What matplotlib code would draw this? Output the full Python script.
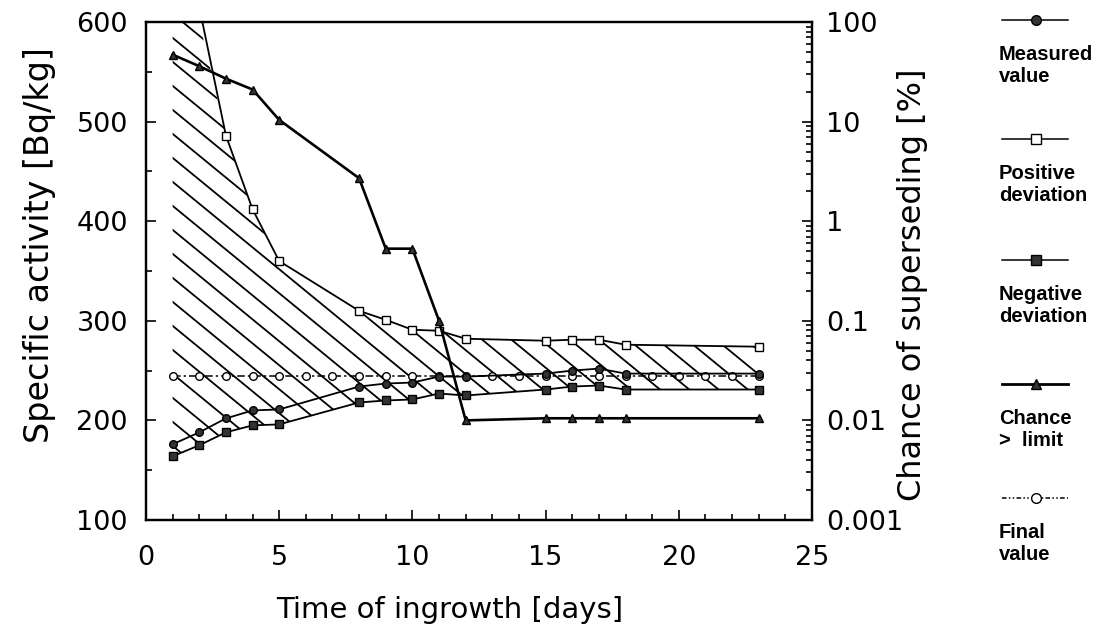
import numpy as np
import matplotlib
matplotlib.use("Agg")
import matplotlib.pyplot as plt
from matplotlib.lines import Line2D
from matplotlib.patches import PathPatch
from matplotlib.ticker import MultipleLocator, LogLocator, FixedLocator, FixedFormatter, NullFormatter

# data
days = [1, 2, 3, 4, 5, 8, 9, 10, 11, 12, 15, 16, 17, 18, 23]
measured = [176, 188, 202, 210, 211, 234, 237, 238, 244, 244, 247, 250, 252, 247, 247]
pos_dev = [750, 615, 486, 412, 360, 310, 301, 291, 290, 282, 280, 281, 281, 276, 274]
neg_dev = [164, 175, 188, 195, 196, 218, 220, 221, 227, 225, 231, 234, 235, 231, 231]
chance = [47, 36, 27, 21, 10.4, 2.7, 0.53, 0.53, 0.10, 0.010, 0.0105, 0.0105, 0.0105, 0.0105, 0.0105]
final_days = list(range(1, 24))
final_value = [245] * 23

left_ticks = [100, 200, 300, 400, 500, 600]
right_ticks = [0.001, 0.01, 0.1, 1, 10, 100]
right_labels = ["0.001", "0.01", "0.1", "1", "10", "100"]
x_ticks = [0, 5, 10, 15, 20, 25]

legend_items = [
    ("Measured\nvalue", dict(marker="o", mfc="#333333", mec="black", ms=7, lw=1.1, ls="-")),
    ("Positive\ndeviation", dict(marker="s", mfc="white", mec="black", ms=7, lw=1.1, ls="-")),
    ("Negative\ndeviation", dict(marker="s", mfc="#333333", mec="black", ms=7, lw=1.1, ls="-")),
    ("Chance\n>  limit", dict(marker="^", mfc="#333333", mec="black", ms=7, lw=2.0, ls="-")),
    ("Final\nvalue", dict(marker="o", mfc="white", mec="black", ms=7, lw=1.1, dashes=[3, 1.5, 1, 1.5, 1, 1.5])),
]

plt.rcParams["font.family"] = "DejaVu Sans"

fig = plt.figure(figsize=(11.01, 6.36), dpi=100)
ax = fig.add_axes([0.1326, 0.1824, 0.6049, 0.783])
ax2 = ax.twinx()

ax.set_xlim(0, 25)
ax.set_ylim(100, 600)
ax2.set_yscale("log")
ax2.set_ylim(0.001, 100)

# hatched band between negative and positive deviation
top = np.minimum(pos_dev, 600)
band = ax.fill_between(days, neg_dev, top, facecolor="none", edgecolor="none")
clip = PathPatch(band.get_paths()[0], transform=ax.transData, facecolor="none", edgecolor="none")
ax.add_patch(clip)
slope = 0.82 * (0.6049 * 1101) / (0.783 * 636)
for c in np.arange(0.0, 2.3, 24 / 498):
    ln = Line2D([0, 1], [c, c - slope], transform=ax.transAxes, color="black", lw=1.3)
    ln.set_clip_path(clip)
    ax.add_line(ln)

ax.plot(final_days, final_value, color="black", lw=1.1, dashes=[5, 2, 1.5, 2],
        marker="o", mfc="white", mec="black", ms=5.5, zorder=3)
ax.plot(days, pos_dev, color="black", lw=1.3, marker="s", mfc="white", mec="black", ms=6, zorder=4)
ax.plot(days, neg_dev, color="black", lw=1.3, marker="s", mfc="#333333", mec="black", ms=6, zorder=4)
ax.plot(days, measured, color="black", lw=1.3, marker="o", mfc="#333333", mec="black", ms=5.5, zorder=4)
ax2.plot(days, chance, color="black", lw=1.9, marker="^", mfc="#333333", mec="black", ms=6, zorder=4)

for a in (ax, ax2):
    for s in a.spines.values():
        s.set_linewidth(1.6)

ax.xaxis.set_major_locator(FixedLocator(x_ticks))
ax.xaxis.set_minor_locator(MultipleLocator(1))
ax.yaxis.set_major_locator(FixedLocator(left_ticks))
ax.yaxis.set_minor_locator(MultipleLocator(50))
ax.tick_params(which="both", direction="in", top=False, right=False, labelsize=19.5, width=1.2)
ax.tick_params(which="major", length=7)
ax.tick_params(which="minor", length=4)
ax.tick_params(axis="y", pad=13)
ax.tick_params(axis="x", pad=18)

ax2.yaxis.set_major_locator(FixedLocator(right_ticks))
ax2.yaxis.set_major_formatter(FixedFormatter(right_labels))
ax2.yaxis.set_minor_locator(LogLocator(base=10, subs=np.arange(2, 10)))
ax2.yaxis.set_minor_formatter(NullFormatter())
ax2.tick_params(which="both", direction="in", labelsize=19.5, width=1.2, pad=10)
ax2.tick_params(which="major", length=7)
ax2.tick_params(which="minor", length=4)

W, H = 1101, 636
fig.text(40 / W, 1 - 245 / H, "Specific activity [Bq/kg]", rotation=90, fontsize=24,
         ha="center", va="center")
fig.text(913 / W, 1 - 285 / H, "Chance of superseding [%]", rotation=90, fontsize=23,
         ha="center", va="center")
fig.text(450 / W, 1 - 610 / H, "Time of ingrowth [days]", fontsize=21, ha="center", va="center")

# legend drawn to the right as separate samples with captions
sample_y = [20, 139, 260, 384, 498]
for (label, style), yp in zip(legend_items, sample_y):
    style = dict(style)
    marker = style.pop("marker")
    mfc = style.pop("mfc")
    mec = style.pop("mec")
    ms = style.pop("ms")
    yf = 1 - yp / H
    fig.add_artist(Line2D([1002 / W, 1068 / W], [yf, yf], color="black", **style))
    fig.add_artist(Line2D([1036 / W], [yf], marker=marker, mfc=mfc, mec=mec, ms=ms, ls="none"))
    fig.text(999 / W, 1 - (yp + 25) / H, label, fontsize=14.5, fontweight="bold",
             family="Liberation Sans", ha="left", va="top", linespacing=1.2)

fig.savefig("out.png", dpi=100)
